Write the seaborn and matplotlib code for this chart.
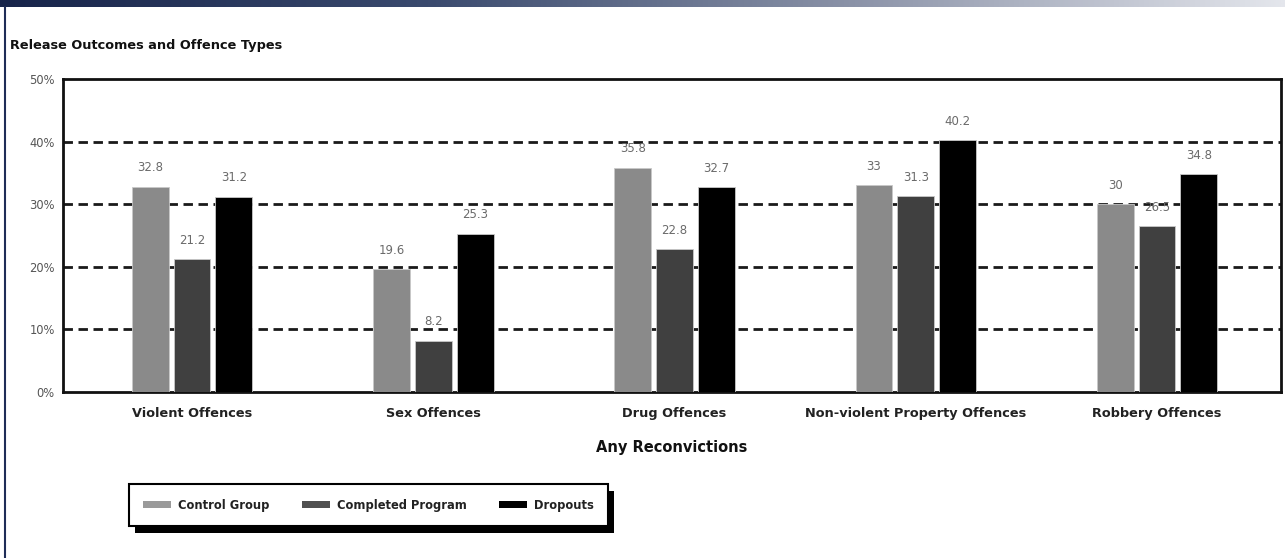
import numpy as np
import pandas as pd
import matplotlib
matplotlib.use("Agg")
import matplotlib.pyplot as plt
from matplotlib.patches import Rectangle, Patch
from matplotlib.lines import Line2D
from matplotlib.colors import LinearSegmentedColormap
import seaborn as sns

# ---- data ----
categories = ["Violent Offences", "Sex Offences", "Drug Offences",
              "Non-violent Property Offences", "Robbery Offences"]
series_names = ["Control Group", "Completed Program", "Dropouts"]
control_group = [32.8, 19.6, 35.8, 33, 30]
completed_program = [21.2, 8.2, 22.8, 31.3, 26.5]
dropouts = [31.2, 25.3, 32.7, 40.2, 34.8]
y_ticks = [0, 10, 20, 30, 40, 50]
y_tick_labels = ["0%", "10%", "20%", "30%", "40%", "50%"]
title_text = "Release Outcomes and Offence Types"
x_title = "Any Reconvictions"

df = pd.DataFrame({
    "category": categories * 3,
    "series": sum([[s] * len(categories) for s in series_names], []),
    "value": control_group + completed_program + dropouts,
})

sns.set_theme(style="white")
plt.rcParams["font.family"] = ["DejaVu Sans"]

W, H = 1285, 558
fig = plt.figure(figsize=(W / 100, H / 100), dpi=100)
fig.patch.set_facecolor("white")

def fx(px):
    return px / W

def fy(py):
    return 1 - py / H

ax_l, ax_r, ax_t, ax_b = 63, 1281, 79, 392
ax = fig.add_axes([fx(ax_l), fy(ax_b), fx(ax_r - ax_l), (ax_b - ax_t) / H])

palette = {"Control Group": "#8a8a8a", "Completed Program": "#404040", "Dropouts": "#000000"}
sns.barplot(data=df, x="category", y="value", hue="series", order=categories,
            hue_order=series_names, palette=palette, width=0.52, gap=0.12,
            saturation=1, ax=ax, legend=False, zorder=3, edgecolor="#c8c8c8",
            linewidth=0.6)

for cont in ax.containers:
    ax.bar_label(cont, fmt="%g", padding=9, color="#6a6a6a", fontsize=8.5)

ax.set_ylim(0, 50)
ax.set_xlim(-0.535, 4.514)
ax.set_yticks(y_ticks)
ax.set_yticklabels(y_tick_labels, color="#555555", fontsize=8.3)
ax.tick_params(axis="y", length=0, pad=6)
ax.tick_params(axis="x", length=0, pad=11)
for lbl in ax.get_xticklabels():
    lbl.set_fontsize(9.3)
    lbl.set_fontweight("bold")
    lbl.set_color("#222222")
ax.set_ylabel("")
ax.set_xlabel(x_title, fontsize=10.5, fontweight="bold", color="#111111", labelpad=14)

for yv in y_ticks[1:-1]:
    ax.axhline(yv, color="#1a1a1a", lw=2, ls=(0, (3.4, 2.0)), zorder=1)
for sp in ax.spines.values():
    sp.set_color("#111111")
    sp.set_linewidth(2)
ax.grid(False)

# title
fig.text(fx(10), fy(45), title_text, fontsize=9.3, fontweight="bold",
         color="#111111", ha="left", va="center")

# banner gradient
bax = fig.add_axes([0, fy(7), 1, 7 / H])
grad = np.linspace(0, 1, 512).reshape(1, -1)
cmap = LinearSegmentedColormap.from_list("banner", ["#17244a", "#3a4a6e", "#8b93a8", "#e4e6ec"])
bax.imshow(grad, aspect="auto", cmap=cmap, extent=(0, 1, 0, 1))
bax.set_axis_off()

# left border
fig.add_artist(Line2D([fx(5), fx(5)], [0, fy(7)], color="#1f2d57", lw=1.5))

# legend
handles = [Patch(facecolor=c, edgecolor="none") for c in ["#9a9a9a", "#505050", "#000000"]]
leg = fig.legend(handles, series_names, loc="lower left",
                 bbox_to_anchor=(fx(129), fy(526), fx(608 - 129), (526 - 481) / H),
                 mode="expand", ncol=3, frameon=True, fancybox=False,
                 handlelength=2.4, handleheight=0.45, handletextpad=0.6,
                 fontsize=8.3, borderpad=1.25, columnspacing=2.5,
                 borderaxespad=0, framealpha=1, facecolor="white")
leg.get_frame().set_edgecolor("#000000")
leg.get_frame().set_linewidth(1.5)
for t in leg.get_texts():
    t.set_fontweight("bold")
    t.set_color("#222222")

fig.canvas.draw()
bb = leg.get_window_extent()
x0, y0, w, h = bb.x0 / W, bb.y0 / H, bb.width / W, bb.height / H
fig.add_artist(Rectangle((x0 + fx(6), y0 - 7 / H), w, h, transform=fig.transFigure,
                         facecolor="black", edgecolor="none", zorder=4))

fig.savefig("out.png", dpi=100)
